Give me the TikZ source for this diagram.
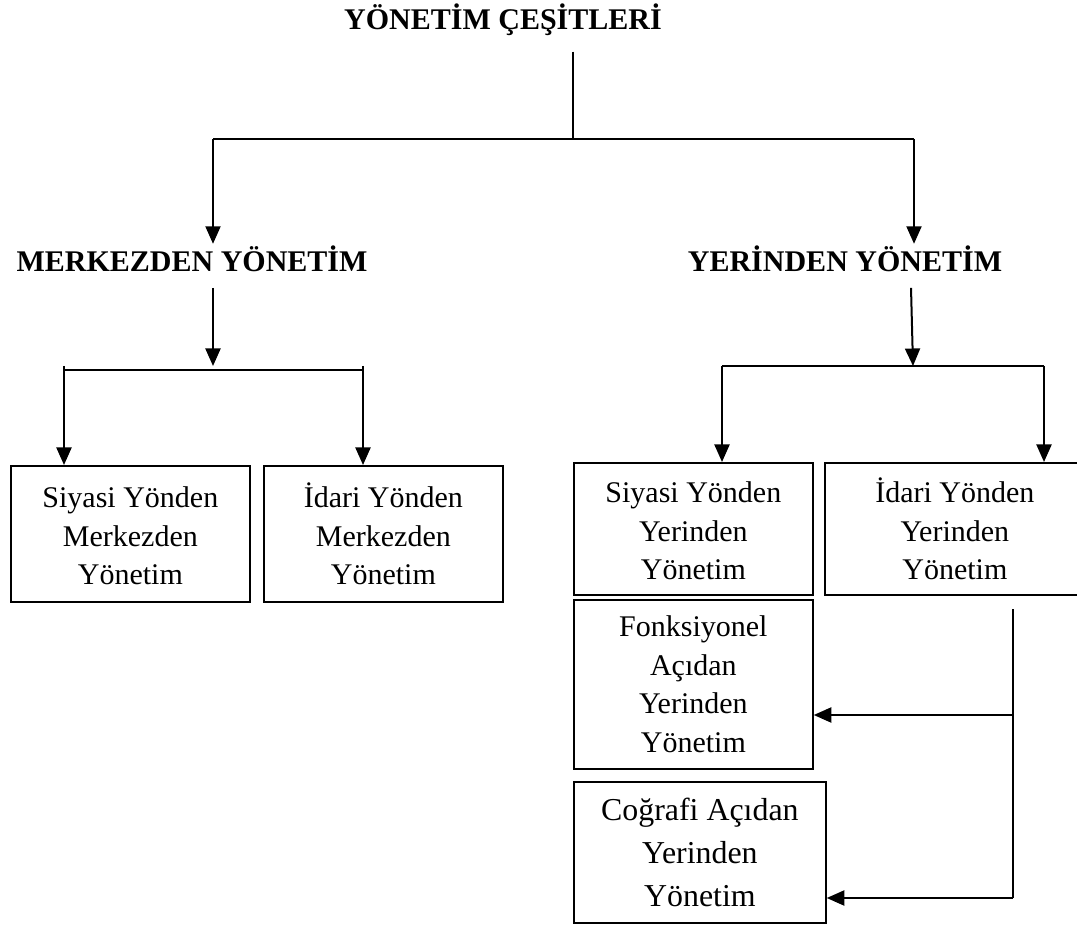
\documentclass[tikz,border=0pt]{standalone}
\usepackage{fontspec}
\setmainfont{Liberation Serif}
\usetikzlibrary{arrows.meta,positioning,calc}

\begin{document}
\begin{tikzpicture}[x=0.4pt,y=-0.4pt,
  baslik/.style={font=\fontsize{12pt}{14pt}\selectfont\bfseries, inner xsep=0pt, inner ysep=6pt, anchor=base},
  kutu/.style={draw, line width=0.7pt, align=center, anchor=north west, inner sep=0pt,
    font=\fontsize{12pt}{15.4pt}\selectfont},
  ok/.style={line width=0.8pt, -{Triangle[length=7pt,width=6pt]}},
  hat/.style={line width=0.8pt}]

\useasboundingbox (0,0) rectangle (1077,930);

% basliklar
\node[baslik] (yonetim) at (503,30) {YÖNETİM ÇEŞİTLERİ};
\node[baslik] (merkez) at (192,272) {MERKEZDEN YÖNETİM};
\node[baslik] (yerinden) at (845,272) {YERİNDEN YÖNETİM};

% kutular
\node[kutu, minimum width=95.6pt, minimum height=54.4pt] (smy) at (10,465)
  {\vphantom{İ}Siyasi Yönden\\Merkezden\\Yönetim};
\node[kutu, minimum width=95.6pt, minimum height=54.4pt] (imy) at (263,465)
  {İdari Yönden\\Merkezden\\Yönetim};
\node[kutu, minimum width=95.6pt, minimum height=52.8pt] (syy) at (573,462)
  {\vphantom{İ}Siyasi Yönden\\Yerinden\\Yönetim};
\node[kutu, minimum width=104pt, minimum height=52.8pt] (iyy) at (824,462)
  {İdari Yönden\\Yerinden\\Yönetim};
\node[kutu, minimum width=95.6pt, minimum height=67.6pt] (fyy) at (573,599)
  {Fonksiyonel\\Açıdan\\Yerinden\\Yönetim};
\node[kutu, minimum width=100.8pt, minimum height=56.4pt,
  font=\fontsize{12.75pt}{17.2pt}\selectfont] (cyy) at (573,781)
  {Coğrafi Açıdan\\Yerinden\\Yönetim};

% baglanti noktalari
\coordinate (ust) at (573,139);
\coordinate (sol) at (213,139);
\coordinate (sag) at (914,139);
\coordinate (mj) at (213,366);
\coordinate (m1) at (64,366);
\coordinate (m2) at (363,366);
\coordinate (yj) at (913,366);
\coordinate (y1) at (722,366);
\coordinate (y2) at (1044,366);
\coordinate (k) at (1013,609);
\coordinate (k1) at (1013,715);
\coordinate (k2) at (1013,898);

% oklar
\draw[line width=0.5pt] (yonetim.south -| ust) -- (ust);
\draw[hat] (sol) -- (sag);
\draw[ok, shorten >=-5.2pt] (sol) -- (sol |- merkez.north);
\draw[ok, shorten >=-5.2pt] (sag) -- (sag |- yerinden.north);

\draw[ok] (merkez.south -| mj) -- (mj);
\draw[hat] ($(m1)+(0,4)$) -- ($(m2)+(0,4)$);
\draw[ok] (m1) -- (m1 |- smy.north);
\draw[ok] (m2) -- (m2 |- imy.north);

\draw[ok] ([xshift=26.4pt]yerinden.south) -- (yj);
\draw[hat] (y1) -- (y2);
\draw[ok] (y1) -- (y1 |- syy.north);
\draw[ok] (y2) -- (y2 |- iyy.north);

\draw[hat] (k) -- (k2);
\draw[ok] (k1) -- (k1 -| fyy.east);
\draw[ok] (k2) -- (k2 -| cyy.east);
\end{tikzpicture}
\end{document}
